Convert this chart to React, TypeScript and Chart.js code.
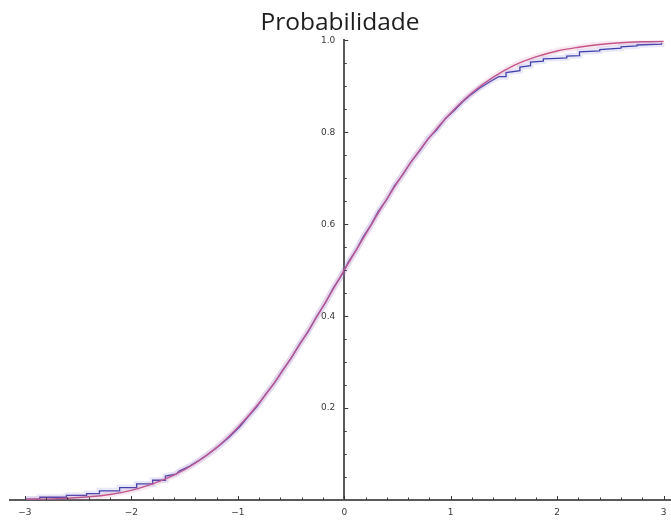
import React, { useEffect, useRef } from "react";
import { Chart, registerables } from "chart.js";

Chart.register(...registerables);

// Title and tick labels
const TITLE = "Probabilidade";
const X_TICKS = [-3, -2, -1, 0, 1, 2, 3];
const Y_TICKS = [0.2, 0.4, 0.6, 0.8, 1.0];

// Theoretical cumulative curve (pink)
const theoX = [-3.0, -2.7, -2.4, -2.2, -2.0, -1.8, -1.6, -1.4, -1.2, -1.0, -0.8, -0.6, -0.4, -0.2, 0.0,
  0.2, 0.4, 0.6, 0.8, 1.0, 1.2, 1.4, 1.6, 1.8, 2.0, 2.2, 2.4, 2.6, 2.8, 3.0];
const theoY = [0.001, 0.003, 0.007, 0.012, 0.021, 0.035, 0.054, 0.080, 0.114, 0.158, 0.211, 0.274, 0.345, 0.421, 0.500,
  0.578, 0.655, 0.726, 0.789, 0.842, 0.886, 0.920, 0.946, 0.964, 0.977, 0.985, 0.991, 0.995, 0.997, 0.998];

// Empirical cumulative curve (blue); repeated x values are the visible jumps in the tails
const empX = [-3.0, -2.86, -2.86, -2.61, -2.61, -2.42, -2.42, -2.30, -2.30, -2.11, -2.11, -1.95, -1.95, -1.80, -1.80,
  -1.68, -1.68, -1.58, -1.55, -1.45, -1.36, -1.27, -1.17, -1.08, -0.98,
  -0.90, -0.82, -0.74, -0.66, -0.58, -0.50, -0.42, -0.34, -0.26, -0.18, -0.10, -0.03, 0.04, 0.11,
  0.18, 0.25, 0.32, 0.40, 0.47, 0.55, 0.63, 0.71, 0.79, 0.87, 0.95, 1.03, 1.11, 1.19, 1.27, 1.36, 1.45,
  1.52, 1.52, 1.65, 1.65, 1.75, 1.75, 1.87, 1.87, 2.00, 2.09, 2.09, 2.21, 2.21, 2.40, 2.40, 2.60, 2.60,
  2.75, 2.75, 2.98, 2.98];
const empY = [0.002, 0.002, 0.006, 0.006, 0.010, 0.010, 0.014, 0.014, 0.020, 0.020, 0.027, 0.027, 0.035, 0.035, 0.043,
  0.043, 0.052, 0.056, 0.063, 0.074, 0.087, 0.101, 0.119, 0.137, 0.160,
  0.182, 0.203, 0.230, 0.253, 0.282, 0.308, 0.339, 0.366, 0.399, 0.428, 0.462, 0.487, 0.518, 0.543,
  0.573, 0.598, 0.628, 0.654, 0.683, 0.708, 0.737, 0.760, 0.787, 0.806, 0.830, 0.847, 0.866, 0.882, 0.896, 0.909, 0.921,
  0.921, 0.930, 0.934, 0.942, 0.945, 0.953, 0.955, 0.960, 0.961, 0.962, 0.966, 0.967, 0.975, 0.977, 0.980, 0.983, 0.986,
  0.988, 0.990, 0.992, 0.995];

const PINK = "rgb(196, 78, 128)";
const PINK_HALO = "rgba(214, 120, 165, 0.16)";
const BLUE = "rgb(56, 56, 164)";
const BLUE_HALO = "rgba(110, 110, 220, 0.16)";
const AXIS = "#5a5a5a";
const LABEL = "#3a3a3a";
const TICK_FONT = "9px 'DejaVu Sans', sans-serif";

const toPoints = (xs: number[], ys: number[]) => xs.map((x, i) => ({ x, y: ys[i] }));
const fmtX = (v: number) => (v < 0 ? "\u2212" + Math.abs(v) : String(v));

// Inward tick marks on the axes crossing at the origin, and their labels
const axisMarks = {
  id: "axisMarks",
  afterDatasetsDraw(chart: any) {
    const { ctx, scales } = chart;
    const xs = scales.x;
    const ys = scales.y;
    const x0 = xs.getPixelForValue(0);
    const y0 = ys.getPixelForValue(0);
    ctx.save();
    ctx.strokeStyle = "#3a3a3a";
    ctx.lineWidth = 1;
    for (let i = -15; i <= 15; i++) {
      const px = Math.round(xs.getPixelForValue(i / 5)) + 0.5;
      const len = i % 5 === 0 ? 4 : 2.5;
      ctx.beginPath();
      ctx.moveTo(px, y0);
      ctx.lineTo(px, y0 - len);
      ctx.stroke();
    }
    for (let i = 1; i <= 20; i++) {
      const py = Math.round(ys.getPixelForValue(i / 20)) + 0.5;
      const len = i % 4 === 0 ? 4 : 2.5;
      ctx.beginPath();
      ctx.moveTo(x0, py);
      ctx.lineTo(x0 + len, py);
      ctx.stroke();
    }
    ctx.fillStyle = LABEL;
    ctx.font = TICK_FONT;
    ctx.textAlign = "right";
    ctx.textBaseline = "middle";
    for (const t of ys.ticks) {
      ctx.fillText(Number(t.value).toFixed(1), x0 - 9, ys.getPixelForValue(t.value));
    }
    ctx.textAlign = "center";
    for (const t of xs.ticks) {
      ctx.fillText(fmtX(Number(t.value)), xs.getPixelForValue(t.value), y0 + 13);
    }
    ctx.restore();
  },
};

export default function App() {
  const canvasRef = useRef<HTMLCanvasElement | null>(null);

  useEffect(() => {
    document.body.style.margin = "0";
    const canvas = canvasRef.current;
    if (!canvas) return;
    const theo = toPoints(theoX, theoY);
    const emp = toPoints(empX, empY);
    const chart = new Chart(canvas, {
      type: "line",
      data: {
        datasets: [
          { data: theo, borderColor: PINK_HALO, borderWidth: 6, pointRadius: 0, cubicInterpolationMode: "monotone" },
          { data: emp, borderColor: BLUE_HALO, borderWidth: 6, pointRadius: 0 },
          { data: theo, borderColor: PINK, borderWidth: 1.4, pointRadius: 0, cubicInterpolationMode: "monotone" },
          { data: emp, borderColor: BLUE, borderWidth: 1.3, pointRadius: 0 },
        ],
      },
      options: {
        responsive: false,
        animation: false,
        layout: { padding: { left: 10, right: 1, top: 0, bottom: 20 } },
        plugins: {
          legend: { display: false },
          tooltip: { enabled: false },
          title: {
            display: true,
            text: TITLE,
            color: "#1e1e1e",
            font: { family: "'Open Sans', sans-serif", size: 24.5, weight: "normal" },
            padding: { top: 8, bottom: 3 },
          },
        },
        scales: {
          x: {
            type: "linear",
            position: { y: 0 },
            min: -3.14,
            max: 3.06,
            afterBuildTicks: (scale: any) => {
              scale.ticks = X_TICKS.map((v) => ({ value: v }));
            },
            grid: { display: false, drawTicks: false },
            border: { display: true, color: AXIS, width: 2 },
            ticks: { display: false },
          },
          y: {
            type: "linear",
            position: { x: 0 },
            min: 0,
            max: 1,
            afterBuildTicks: (scale: any) => {
              scale.ticks = Y_TICKS.map((v) => ({ value: v }));
            },
            grid: { display: false, drawTicks: false },
            border: { display: true, color: AXIS, width: 2 },
            ticks: { display: false },
          },
        },
      },
      plugins: [axisMarks],
    });
    return () => chart.destroy();
  }, []);

  return (
    <div style={{ width: 671, height: 520, background: "#fff" }}>
      <canvas ref={canvasRef} width={671} height={520} style={{ display: "block" }} />
    </div>
  );
}
